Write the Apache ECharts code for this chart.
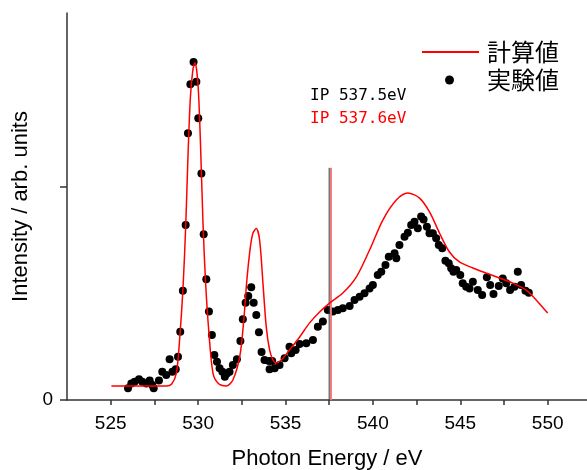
<!DOCTYPE html>
<html>
<head>
<meta charset="utf-8">
<script src="https://cdn.jsdelivr.net/npm/echarts@6/dist/echarts.min.js"></script>
<style>
  html, body { margin: 0; padding: 0; background: #fff; }
  #MyChart { width: 587px; height: 470px; }
</style>
</head>
<body>
<div id="MyChart"></div>
<script>
// 計算スペクトル (eV, 強度)
var calcEnergy = [525.04, 528.18, 528.49, 528.76, 528.94, 529.13, 529.29, 529.42, 529.56, 529.70,
    529.82, 529.99, 530.13, 530.28, 530.43, 530.62, 530.85, 531.13, 531.61, 531.99,
    532.38, 532.60, 532.79, 532.99, 533.14, 533.33, 533.52, 533.71, 533.90, 534.09,
    534.28, 534.47, 534.76, 535.23, 535.81, 536.38, 536.95, 537.52, 538.28, 539.05,
    539.81, 540.57, 541.34, 542.00, 542.67, 543.24, 543.81, 544.38, 544.95, 545.72,
    546.48, 547.24, 548.00, 548.77, 549.34, 550.00];
var calcIntensity = [0.066, 0.066, 0.075, 0.127, 0.282, 0.516, 0.812, 1.141, 1.423, 1.549,
    1.584, 1.488, 1.221, 0.831, 0.549, 0.315, 0.127, 0.080, 0.066, 0.094,
    0.202, 0.362, 0.563, 0.718, 0.784, 0.805, 0.751, 0.549, 0.343, 0.235,
    0.188, 0.174, 0.188, 0.235, 0.296, 0.362, 0.413, 0.455, 0.502, 0.577,
    0.704, 0.845, 0.939, 0.972, 0.948, 0.883, 0.784, 0.695, 0.648, 0.620,
    0.596, 0.573, 0.549, 0.516, 0.470, 0.408];

// 実験スペクトル (eV, 強度)
var expEnergy = [525.99, 526.18, 526.37, 526.62, 526.81, 527.04, 527.23, 527.38, 527.46, 527.76,
    527.95, 528.18, 528.37, 528.53, 528.72, 528.85, 528.98, 529.13, 529.29, 529.42,
    529.56, 529.74, 529.90, 530.01, 530.19, 530.32, 530.47, 530.62, 530.79, 530.93,
    531.08, 531.23, 531.39, 531.53, 531.65, 531.80, 531.99, 532.22, 532.42, 532.56,
    532.72, 532.87, 533.04, 533.18, 533.33, 533.48, 533.63, 533.80, 534.05, 534.24,
    534.09, 534.38, 534.66, 534.95, 535.23, 535.33, 535.58, 535.81, 536.19, 536.57,
    536.85, 537.14, 537.42, 537.71, 538.00, 538.28, 538.67, 538.95, 539.24, 539.52,
    539.81, 540.00, 540.28, 540.48, 540.72, 540.91, 541.24, 541.34, 541.52, 541.81,
    542.00, 542.19, 542.38, 542.57, 542.76, 542.90, 543.09, 543.24, 543.43, 543.62,
    543.77, 543.97, 544.15, 544.34, 544.48, 544.61, 544.77, 545.00, 545.14, 545.34,
    545.53, 545.72, 546.00, 546.25, 546.52, 546.71, 546.90, 547.20, 547.43, 547.63,
    547.85, 548.10, 548.29, 548.48, 548.73, 548.92];
var expIntensity = [0.055, 0.078, 0.086, 0.097, 0.086, 0.078, 0.091, 0.070, 0.055, 0.091,
    0.133, 0.117, 0.191, 0.133, 0.144, 0.203, 0.321, 0.513, 0.822, 1.252,
    1.482, 1.587, 1.494, 1.323, 1.064, 0.778, 0.567, 0.415, 0.305, 0.211,
    0.180, 0.149, 0.133, 0.109, 0.125, 0.133, 0.164, 0.191, 0.277, 0.379,
    0.457, 0.488, 0.529, 0.457, 0.399, 0.318, 0.225, 0.188, 0.183, 0.183,
    0.144, 0.149, 0.164, 0.196, 0.250, 0.219, 0.235, 0.263, 0.266, 0.282,
    0.344, 0.368, 0.423, 0.415, 0.423, 0.431, 0.441, 0.470, 0.485, 0.501,
    0.524, 0.540, 0.587, 0.602, 0.634, 0.673, 0.689, 0.665, 0.728, 0.767,
    0.785, 0.822, 0.837, 0.806, 0.861, 0.848, 0.814, 0.783, 0.783, 0.759,
    0.728, 0.712, 0.654, 0.642, 0.618, 0.602, 0.610, 0.587, 0.548, 0.532,
    0.524, 0.555, 0.516, 0.493, 0.576, 0.540, 0.498, 0.535, 0.571, 0.548,
    0.516, 0.532, 0.602, 0.540, 0.513, 0.504];

// イオン化ポテンシャル
var ipExp = 537.5;
var ipCalc = 537.6;
var ipTop = 1.09;

// 目盛り
var xTicks = [525, 527.5, 530, 532.5, 535, 537.5, 540, 542.5, 545, 547.5, 550];
var xLabels = [525, 530, 535, 540, 545, 550];
var yTicks = [0, 1];
var yLabels = [0];

function zip(a, b) {
    var out = [];
    for (var i = 0; i < a.length; i++) {
        out.push([a[i], b[i]]);
    }
    return out;
}

var myChart = echarts.init(document.getElementById('MyChart'));
var axisColor = '#333';
var option = {
    animation: false,
    textStyle: { fontFamily: 'Liberation Sans, Arial, sans-serif' },
    grid: { left: 67, right: 0, top: 13, bottom: 70, containLabel: false, outerBoundsMode: 'none' },
    legend: [
        {
            data: [{ name: '計算値', icon: 'rect' }],
            left: 422,
            top: 40,
            padding: 0,
            itemWidth: 57,
            itemHeight: 2,
            textStyle: { fontSize: 24, color: '#000', fontFamily: 'Noto Sans CJK JP', padding: [0, 0, 0, 3] }
        },
        {
            data: [{ name: '実験値', icon: 'circle' }],
            left: 445,
            top: 68,
            padding: 0,
            itemWidth: 9,
            itemHeight: 9,
            textStyle: { fontSize: 24, color: '#000', fontFamily: 'Noto Sans CJK JP', padding: [0, 0, 0, 28] }
        }
    ],
    xAxis: {
        type: 'value',
        min: 522.5,
        max: 552.25,
        name: 'Photon Energy / eV',
        nameLocation: 'middle',
        nameGap: 48,
        nameTextStyle: { fontSize: 22, color: '#000' },
        splitLine: { show: false },
        axisLine: { onZero: false, lineStyle: { color: axisColor, width: 1.5 } },
        axisTick: { customValues: xTicks, length: 5, lineStyle: { color: axisColor, width: 1.5 } },
        axisLabel: { customValues: xLabels, fontSize: 19, color: '#000', margin: 14 }
    },
    yAxis: {
        type: 'value',
        min: 0,
        max: 1.817,
        name: 'Intensity / arb. units',
        nameLocation: 'middle',
        nameGap: 24,
        nameTextStyle: { fontSize: 22, color: '#000' },
        splitLine: { show: false },
        axisLine: { show: true, lineStyle: { color: axisColor, width: 1.5 } },
        axisTick: { show: true, customValues: yTicks, length: 7, lineStyle: { color: axisColor, width: 1.5 } },
        axisLabel: { customValues: yLabels, fontSize: 19, color: '#000', margin: 14 }
    },
    graphic: [
        {
            type: 'text', left: 310, top: 88,
            style: { text: 'IP 537.5eV', fill: '#000', fontSize: 16, fontFamily: 'DejaVu Sans Mono' }
        },
        {
            type: 'text', left: 310, top: 111,
            style: { text: 'IP 537.6eV', fill: '#ff0000', fontSize: 16, fontFamily: 'DejaVu Sans Mono' }
        }
    ],
    series: [
        {
            name: 'IP exp',
            type: 'line',
            silent: true,
            symbol: 'none',
            lineStyle: { color: '#333', width: 1 },
            data: [[ipExp, 0], [ipExp, ipTop]]
        },
        {
            name: 'IP calc',
            type: 'line',
            silent: true,
            symbol: 'none',
            lineStyle: { color: '#f07878', width: 2 },
            data: [[ipCalc, 0], [ipCalc, ipTop]]
        },
        {
            name: '計算値',
            type: 'line',
            symbol: 'none',
            smooth: 0.3,
            lineStyle: { color: '#ff0000', width: 1.5 },
            itemStyle: { color: '#ff0000' },
            data: zip(calcEnergy, calcIntensity)
        },
        {
            name: '実験値',
            type: 'scatter',
            symbol: 'circle',
            symbolSize: 8,
            itemStyle: { color: '#000', opacity: 1 },
            data: zip(expEnergy, expIntensity)
        }
    ]
};
myChart.setOption(option);
</script>
</body>
</html>
